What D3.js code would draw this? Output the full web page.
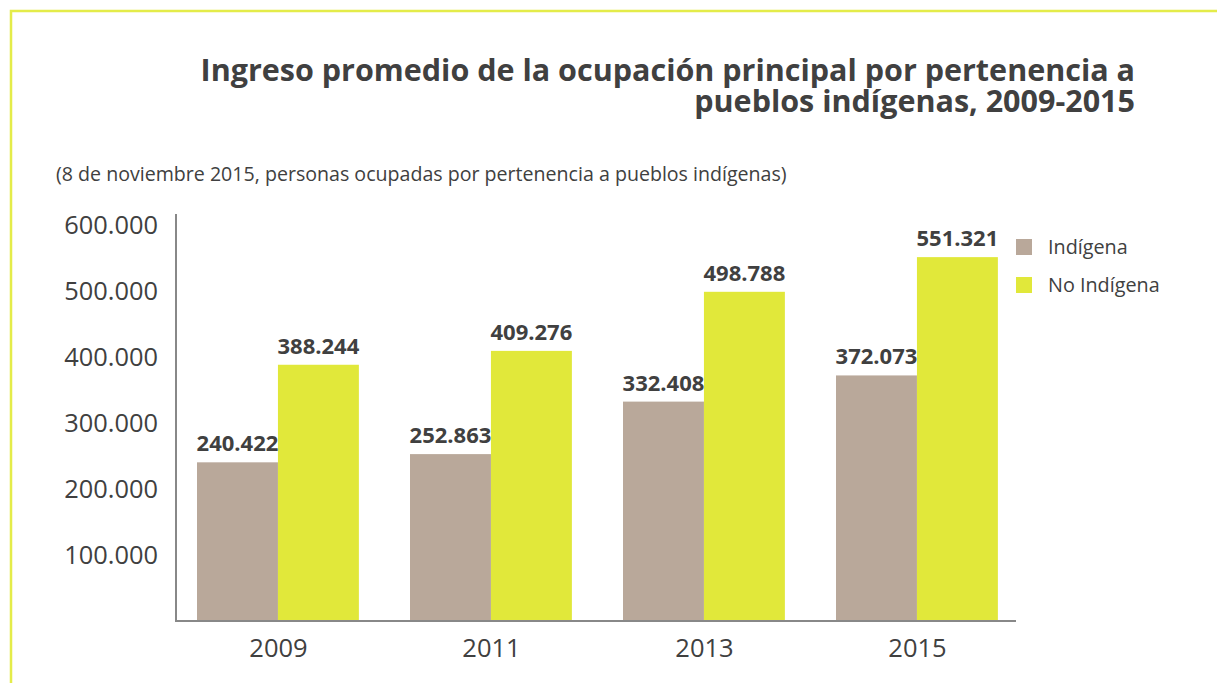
<!DOCTYPE html>
<html>
<head>
<meta charset="utf-8">
<script src="https://cdn.jsdelivr.net/npm/d3@7"></script>
<style>
  body { margin: 0; background: #fff; }
  svg { font-family: "Open Sans", sans-serif; display: block; }
</style>
</head>
<body>
<div id="chart"></div>
<script>
var width = 1217,
    height = 683;

var years = ["2009", "2011", "2013", "2015"];
var series = ["Indígena", "No Indígena"];
var indigena = [240422, 252863, 332408, 372073];
var noIndigena = [388244, 409276, 498788, 551321];
var yTicks = [100000, 200000, 300000, 400000, 500000, 600000];
var titleLines = ["Ingreso promedio de la ocupación principal por pertenencia a", "pueblos indígenas, 2009-2015"];

var colors = ["#b9a89a", "#e1e83a"];
var textColor = "#404040";

var fmt = function(v) { return d3.format(",")(v).replace(/,/g, "."); };

var svg = d3.select("#chart")
  .append("svg")
  .attr("width", width)
  .attr("height", height);

// frame
svg.append("path")
  .attr("d", "M11,683 V11 H1217")
  .attr("fill", "none")
  .attr("stroke", "#e4ec4a")
  .attr("stroke-width", 2.5);

// title
svg.selectAll(".title")
  .data(titleLines)
  .enter().append("text")
    .attr("class", "title")
    .attr("x", 1135)
    .attr("y", function(d, i) { return 81 + i * 31; })
    .attr("text-anchor", "end")
    .attr("font-weight", "bold")
    .attr("font-size", 30.5)
    .attr("fill", textColor)
    .text(function(d) { return d; });

svg.append("text")
  .attr("x", 56)
  .attr("y", 181)
  .attr("font-size", 19.6)
  .attr("fill", textColor)
  .text("(8 de noviembre 2015, personas ocupadas por pertenencia a pueblos indígenas)");

var x0 = d3.scaleBand()
  .domain(years)
  .range([172, 1024])
  .paddingInner(0.24)
  .paddingOuter(0.12);

var x1 = d3.scaleBand()
  .domain(series)
  .range([0, x0.bandwidth()]);

var y = d3.scaleLinear()
  .domain([0, 600000])
  .range([621, 225]);

var data = years.map(function(yr, i) {
  return { year: yr, values: [indigena[i], noIndigena[i]] };
});

var groups = svg.selectAll(".group")
  .data(data)
  .enter().append("g")
    .attr("class", "group")
    .attr("transform", function(d) { return "translate(" + Math.floor(x0(d.year)) + ",0)"; });

groups.selectAll("rect")
  .data(function(d) { return d.values.map(function(v, j) { return { key: series[j], value: v, j: j }; }); })
  .enter().append("rect")
    .attr("x", function(d) { return x1(d.key); })
    .attr("y", function(d) { return y(d.value); })
    .attr("width", x1.bandwidth())
    .attr("height", function(d) { return y(0) - y(d.value); })
    .attr("fill", function(d) { return colors[d.j]; });

groups.selectAll(".val")
  .data(function(d) { return d.values.map(function(v, j) { return { key: series[j], value: v }; }); })
  .enter().append("text")
    .attr("class", "val")
    .attr("x", function(d) { return x1(d.key) + x1.bandwidth() / 2; })
    .attr("y", function(d) { return y(d.value) - 11; })
    .attr("text-anchor", "middle")
    .attr("font-weight", "bold")
    .attr("font-size", 22)
    .attr("fill", textColor)
    .text(function(d) { return fmt(d.value); });

// y axis
var yAxis = svg.append("g")
  .attr("transform", "translate(176,0)")
  .call(d3.axisLeft(y).tickValues(yTicks).tickSize(0).tickPadding(18).tickFormat(fmt));
yAxis.select(".domain").remove();
yAxis.selectAll("text")
  .attr("font-size", 25.4)
  .attr("font-family", "Open Sans, sans-serif")
  .attr("fill", textColor);

svg.append("line")
  .attr("x1", 176).attr("x2", 176)
  .attr("y1", 214).attr("y2", 622)
  .attr("stroke", "#888")
  .attr("stroke-width", 2);

// x axis
var xAxis = svg.append("g")
  .attr("transform", "translate(0,621)")
  .call(d3.axisBottom(x0).tickSize(0).tickPadding(18));
xAxis.select(".domain").remove();
xAxis.selectAll("text")
  .attr("font-size", 25.5)
  .attr("font-family", "Open Sans, sans-serif")
  .attr("fill", textColor);

svg.append("line")
  .attr("x1", 175).attr("x2", 1016)
  .attr("y1", 621).attr("y2", 621)
  .attr("stroke", "#888")
  .attr("stroke-width", 2);

// legend
var legend = svg.selectAll(".legend")
  .data(series)
  .enter().append("g")
    .attr("class", "legend")
    .attr("transform", function(d, i) { return "translate(1016," + (239 + i * 38) + ")"; });

legend.append("rect")
  .attr("width", 16)
  .attr("height", 16)
  .attr("fill", function(d, i) { return colors[i]; });

legend.append("text")
  .attr("x", 32)
  .attr("y", 15)
  .attr("font-size", 19.8)
  .attr("fill", textColor)
  .text(function(d) { return d; });
</script>
</body>
</html>
